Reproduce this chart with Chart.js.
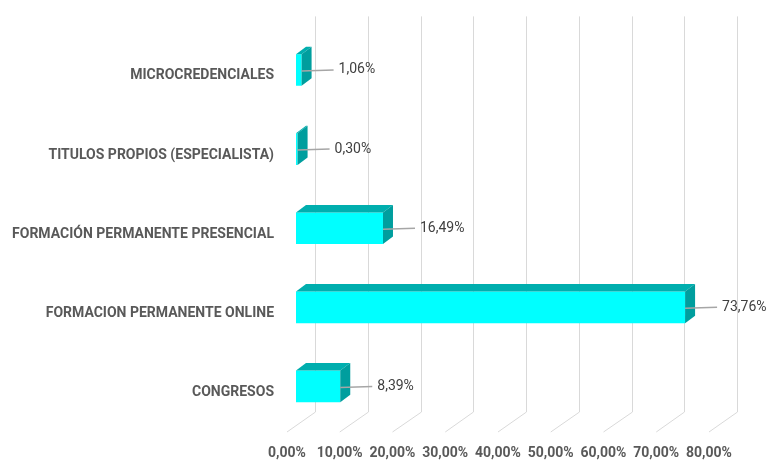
<!DOCTYPE html>
<html><head><meta charset="utf-8">
<script src="https://cdn.jsdelivr.net/npm/chart.js@4.4.1/dist/chart.umd.min.js"></script>
<style>html,body{margin:0;padding:0;background:#fff;} #wrap{width:774px;height:474px;position:relative}</style>
</head><body><div id="wrap"><canvas id="c" width="774" height="474"></canvas></div>
<script>
const categories = ['MICROCREDENCIALES','TITULOS PROPIOS (ESPECIALISTA)','FORMACIÓN PERMANENTE PRESENCIAL','FORMACION PERMANENTE ONLINE','CONGRESOS'];
const values = [1.06, 0.30, 16.49, 73.76, 8.39];
const xTicks = [0,10,20,30,40,50,60,70,80];
const fmt = v => v.toFixed(2).replace('.', ',') + '%';

Chart.defaults.font.family = 'Roboto';

const wallPlugin = {
  id: 'wall',
  beforeDatasetsDraw(chart) {
    const ctx = chart.ctx, xs = chart.scales.x, a = chart.chartArea;
    ctx.save();
    ctx.strokeStyle = '#d9d9d9';
    ctx.lineWidth = 1;
    xTicks.forEach(v => {
      const xf = xs.getPixelForValue(v);
      const bx = Math.round(xf + 19) + 0.5;
      ctx.beginPath();
      ctx.moveTo(bx, a.top - 14);
      ctx.lineTo(bx, a.bottom - 14);
      ctx.lineTo(xf - 9, a.bottom + 6);
      ctx.stroke();
    });
    ctx.restore();
  }
};

const bars3dPlugin = {
  id: 'bars3d',
  afterDatasetsDraw(chart) {
    const ctx = chart.ctx;
    const meta = chart.getDatasetMeta(0);
    const dx = 10, dy = 7.5;
    ctx.save();
    meta.data.forEach((el, i) => {
      const p = el.getProps(['x','y','base','height'], true);
      const top = p.y - p.height / 2, bot = p.y + p.height / 2;
      const x0 = p.base, x1 = p.x;
      // top face
      ctx.fillStyle = '#00AEAE';
      ctx.beginPath();
      ctx.moveTo(x0, top); ctx.lineTo(x1, top); ctx.lineTo(x1 + dx, top - dy); ctx.lineTo(x0 + dx, top - dy);
      ctx.closePath(); ctx.fill();
      // side face
      ctx.fillStyle = '#009E9E';
      ctx.beginPath();
      ctx.moveTo(x1, top); ctx.lineTo(x1 + dx, top - dy); ctx.lineTo(x1 + dx, bot - dy); ctx.lineTo(x1, bot);
      ctx.closePath(); ctx.fill();
      // leader line + label
      ctx.strokeStyle = '#A6A6A6';
      ctx.lineWidth = 1.5;
      ctx.beginPath();
      ctx.moveTo(x1, p.y + 1); ctx.lineTo(x1 + 32, p.y);
      ctx.stroke();
      ctx.fillStyle = '#404040';
      ctx.font = '14px Roboto';
      ctx.textBaseline = 'middle';
      ctx.textAlign = 'left';
      ctx.fillText(fmt(values[i]), x1 + 37, p.y);
    });
    ctx.restore();
  }
};

new Chart(document.getElementById('c'), {
  type: 'bar',
  data: {
    labels: categories,
    datasets: [{
      data: values,
      backgroundColor: '#00FFFF',
      borderWidth: 0,
      barPercentage: 0.4,
      categoryPercentage: 1
    }]
  },
  options: {
    indexAxis: 'y',
    responsive: false,
    animation: false,
    devicePixelRatio: 1,
    layout: { padding: { left: 0, right: 56, top: 26, bottom: 0 } },
    plugins: { legend: { display: false }, tooltip: { enabled: false } },
    scales: {
      x: {
        type: 'linear', min: 0, max: 80,
        ticks: { stepSize: 10, callback: v => fmt(v), font: { size: 14, weight: 'bold' }, color: '#595959', labelOffset: -9, padding: 19, maxRotation: 0, autoSkip: false },
        grid: { display: false, drawTicks: false },
        border: { display: false },
        afterFit: s => { s.height = 48; }
      },
      y: {
        ticks: { font: { size: 14, weight: 'bold' }, color: '#595959', labelOffset: 6, padding: 22 },
        grid: { display: false, drawTicks: false },
        border: { display: false },
        afterFit: s => { s.width = 296; }
      }
    }
  },
  plugins: [wallPlugin, bars3dPlugin]
});
</script>
</body></html>
